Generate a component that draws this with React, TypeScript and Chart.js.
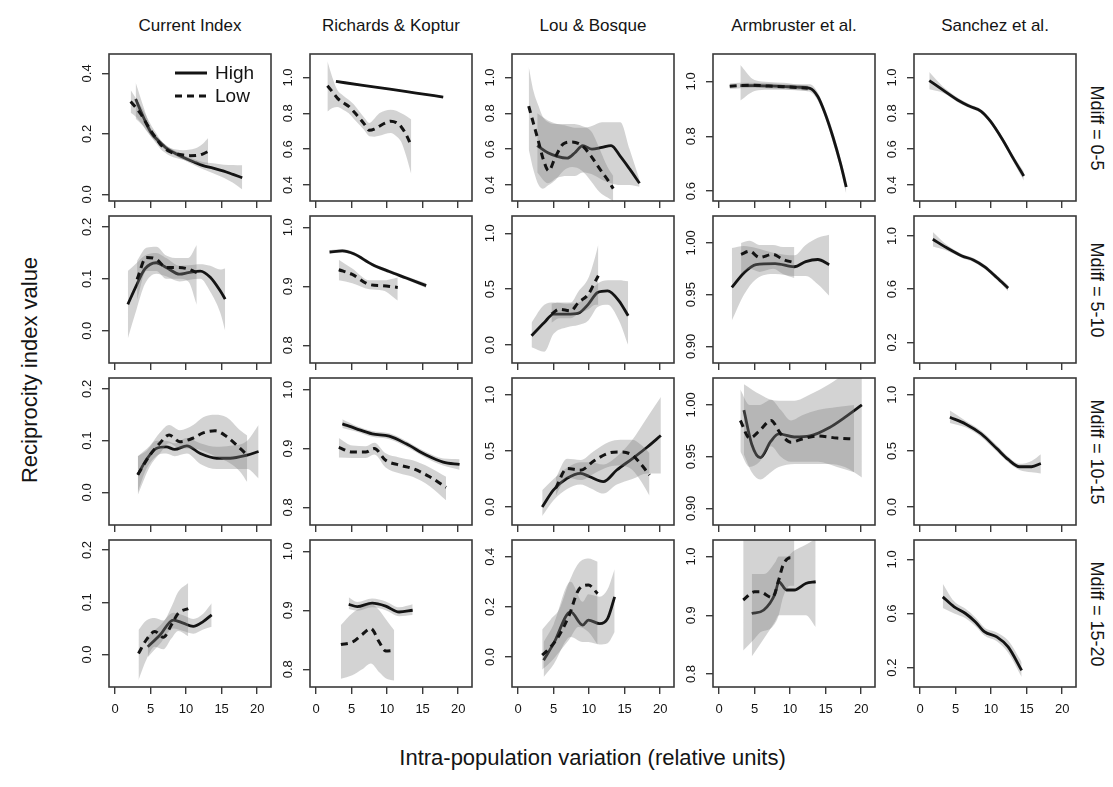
import React, { useEffect, useRef } from "react";
import { Chart, registerables } from "chart.js";
Chart.register(...registerables);

const FONT = '"Liberation Sans", Arial, Helvetica, sans-serif';
const INK = "#141414";
const FRAME = "#3a3a3a";
const BAND = "rgba(128,128,128,0.35)";
const TICK_SIZE = 13;

const COLUMN_TITLES = ["Current Index", "Richards & Koptur", "Lou & Bosque", "Armbruster et al.", "Sanchez et al."];
const ROW_LABELS = ["Mdiff = 0-5", "Mdiff = 5-10", "Mdiff = 10-15", "Mdiff = 15-20"];
const X_TITLE = "Intra-population variation (relative units)";
const Y_TITLE = "Reciprocity index value";
const LEGEND_LABELS = ["High", "Low"];
const X_TICKS = [0, 5, 10, 15, 20];
const X_LIMITS = [-0.85, 21.95];

// y-axis limits and tick labels per row (columns: Current, Richards, Lou, Armbruster, Sanchez)
const Y_LIMITS_05 = [[-0.022, 0.464], [0.311, 1.131], [0.311, 1.131], [0.564, 1.10], [0.311, 1.131]];
const Y_TICKS_05 = [["0.0", "0.2", "0.4"], ["0.4", "0.6", "0.8", "1.0"], ["0.4", "0.6", "0.8", "1.0"], ["0.6", "0.8", "1.0"], ["0.4", "0.6", "0.8", "1.0"]];
const Y_LIMITS_510 = [[-0.062, 0.221], [0.77, 1.019], [-0.161, 1.155], [0.884, 1.026], [0.045, 1.15]];
const Y_TICKS_510 = [["0.0", "0.1", "0.2"], ["0.8", "0.9", "1.0"], ["0.0", "0.5", "1.0"], ["0.90", "0.95", "1.00"], ["0.2", "0.6", "1.0"]];
const Y_LIMITS_1015 = [[-0.063, 0.221], [0.77, 1.02], [-0.16, 1.15], [0.884, 1.026], [-0.16, 1.15]];
const Y_TICKS_1015 = [["0.0", "0.1", "0.2"], ["0.8", "0.9", "1.0"], ["0.0", "0.5", "1.0"], ["0.90", "0.95", "1.00"], ["0.0", "0.5", "1.0"]];
const Y_LIMITS_1520 = [[-0.062, 0.219], [0.77, 1.019], [-0.12, 0.467], [0.778, 1.028], [0.057, 1.143]];
const Y_TICKS_1520 = [["0.0", "0.1", "0.2"], ["0.8", "0.9", "1.0"], ["0.0", "0.2", "0.4"], ["0.8", "0.9", "1.0"], ["0.2", "0.6", "1.0"]];

// ---------- Mdiff = 0-5 ----------
const CUR05_HX = [2.9, 4.0, 5.1, 6.2, 7.2, 8.5, 9.8, 11.1, 12.4, 13.8, 15.3, 16.6, 17.9];
const CUR05_HY = [0.315, 0.255, 0.203, 0.175, 0.153, 0.135, 0.12, 0.107, 0.095, 0.087, 0.077, 0.066, 0.055];
const CUR05_HLO = [0.25, 0.225, 0.19, 0.165, 0.145, 0.128, 0.112, 0.097, 0.083, 0.07, 0.055, 0.038, 0.016];
const CUR05_HHI = [0.37, 0.29, 0.217, 0.185, 0.162, 0.143, 0.128, 0.117, 0.107, 0.103, 0.098, 0.097, 0.096];
const CUR05_LX = [2.2, 3.0, 3.7, 4.4, 5.1, 5.8, 6.4, 7.1, 7.8, 8.6, 9.6, 10.6, 11.6, 12.4, 13.1];
const CUR05_LY = [0.307, 0.285, 0.263, 0.235, 0.208, 0.185, 0.165, 0.15, 0.14, 0.134, 0.13, 0.128, 0.129, 0.134, 0.142];
const CUR05_LLO = [0.27, 0.255, 0.235, 0.21, 0.19, 0.168, 0.15, 0.137, 0.127, 0.12, 0.114, 0.108, 0.103, 0.1, 0.099];
const CUR05_LHI = [0.345, 0.315, 0.29, 0.26, 0.228, 0.202, 0.18, 0.163, 0.153, 0.148, 0.146, 0.148, 0.155, 0.168, 0.186];

const RK05_HX = [2.8, 6.6, 10.4, 14.1, 17.9];
const RK05_HY = [0.978, 0.956, 0.935, 0.913, 0.891];
const RK05_HLO = [0.972, 0.951, 0.93, 0.908, 0.885];
const RK05_HHI = [0.984, 0.961, 0.94, 0.918, 0.897];
const RK05_LX = [1.6, 2.3, 3.0, 3.8, 4.6, 5.3, 6.1, 6.8, 7.5, 8.2, 8.9, 9.7, 10.5, 11.3, 12.0, 12.7, 13.4];
const RK05_LY = [0.954, 0.92, 0.885, 0.86, 0.839, 0.81, 0.774, 0.74, 0.706, 0.712, 0.728, 0.745, 0.756, 0.748, 0.724, 0.68, 0.62];
const RK05_LLO = [0.81, 0.83, 0.835, 0.82, 0.8, 0.77, 0.737, 0.705, 0.672, 0.67, 0.675, 0.685, 0.69, 0.672, 0.64, 0.56, 0.46];
const RK05_LHI = [1.09, 1.0, 0.93, 0.9, 0.876, 0.85, 0.81, 0.775, 0.746, 0.77, 0.8, 0.815, 0.82, 0.815, 0.8, 0.785, 0.765];

const LB05_HX = [2.7, 4.2, 5.5, 6.9, 8.0, 9.1, 10.4, 11.8, 13.1, 14.4, 15.7, 17.1];
const LB05_HY = [0.62, 0.58, 0.56, 0.55, 0.58, 0.62, 0.6, 0.61, 0.62, 0.56, 0.49, 0.41];
const LB05_HLO = [0.47, 0.41, 0.44, 0.45, 0.45, 0.47, 0.46, 0.43, 0.41, 0.4, 0.4, 0.39];
const LB05_HHI = [0.8, 0.76, 0.74, 0.73, 0.72, 0.72, 0.73, 0.75, 0.75, 0.75, 0.6, 0.43];
const LB05_LX = [1.5, 2.2, 2.9, 3.5, 4.3, 5.3, 6.4, 7.6, 9.0, 10.3, 11.5, 12.6, 13.4];
const LB05_LY = [0.84, 0.74, 0.64, 0.55, 0.48, 0.56, 0.63, 0.64, 0.62, 0.56, 0.49, 0.43, 0.38];
const LB05_LLO = [0.6, 0.48, 0.4, 0.38, 0.4, 0.43, 0.48, 0.5, 0.48, 0.42, 0.36, 0.33, 0.31];
const LB05_LHI = [1.06, 0.92, 0.84, 0.78, 0.75, 0.74, 0.74, 0.74, 0.73, 0.7, 0.6, 0.5, 0.45];

const ARM05_HX = [3.0, 5.0, 7.0, 9.0, 11.0, 12.8, 13.9, 14.9, 16.0, 17.1, 17.9];
const ARM05_HY = [0.985, 0.985, 0.984, 0.982, 0.979, 0.975, 0.945, 0.885, 0.8, 0.7, 0.615];
const ARM05_HLO = [0.93, 0.965, 0.97, 0.97, 0.968, 0.962, 0.93, 0.87, 0.78, 0.68, 0.59];
const ARM05_HHI = [1.06, 1.005, 0.998, 0.995, 0.99, 0.99, 0.96, 0.9, 0.82, 0.72, 0.64];
const ARM05_LX = [1.5, 3.0, 5.0, 7.0, 9.0, 11.0, 12.5];
const ARM05_LY = [0.982, 0.985, 0.986, 0.983, 0.981, 0.978, 0.975];
const ARM05_LLO = [0.972, 0.975, 0.977, 0.974, 0.972, 0.968, 0.964];
const ARM05_LHI = [0.992, 0.995, 0.995, 0.992, 0.99, 0.988, 0.986];

const SAN05_HX = [1.3, 3.2, 5.6, 7.0, 8.6, 9.9, 11.6, 13.2, 14.6];
const SAN05_HY = [0.983, 0.931, 0.867, 0.839, 0.811, 0.756, 0.654, 0.543, 0.45];
const SAN05_HLO = [0.935, 0.915, 0.855, 0.828, 0.8, 0.744, 0.64, 0.525, 0.425];
const SAN05_HHI = [1.03, 0.95, 0.88, 0.85, 0.822, 0.768, 0.668, 0.56, 0.475];

// ---------- Mdiff = 5-10 ----------
const CUR510_HX = [1.8, 3.0, 4.2, 5.8, 7.2, 9.1, 10.3, 12.0, 13.4, 14.8, 15.5];
const CUR510_HY = [0.051, 0.087, 0.119, 0.131, 0.122, 0.109, 0.112, 0.115, 0.103, 0.077, 0.061];
const CUR510_HLO = [-0.015, 0.04, 0.09, 0.11, 0.105, 0.095, 0.098, 0.1, 0.075, 0.035, 0.0];
const CUR510_HHI = [0.115, 0.13, 0.145, 0.15, 0.14, 0.125, 0.126, 0.128, 0.125, 0.118, 0.12];
const CUR510_LX = [3.1, 4.4, 5.8, 7.2, 8.9, 10.3, 11.5];
const CUR510_LY = [0.099, 0.141, 0.138, 0.122, 0.122, 0.119, 0.112];
const CUR510_LLO = [0.06, 0.115, 0.115, 0.1, 0.1, 0.095, 0.05];
const CUR510_LHI = [0.135, 0.16, 0.162, 0.145, 0.14, 0.14, 0.165];

const RK510_HX = [1.9, 3.7, 5.3, 7.9, 10.3, 12.7, 15.5];
const RK510_HY = [0.958, 0.96, 0.955, 0.937, 0.925, 0.914, 0.901];
const RK510_HLO = [0.955, 0.957, 0.952, 0.934, 0.922, 0.911, 0.897];
const RK510_HHI = [0.961, 0.963, 0.958, 0.94, 0.928, 0.917, 0.905];
const RK510_LX = [3.2, 5.1, 7.5, 9.4, 11.5];
const RK510_LY = [0.928, 0.92, 0.903, 0.901, 0.898];
const RK510_LLO = [0.91, 0.905, 0.895, 0.893, 0.876];
const RK510_LHI = [0.945, 0.93, 0.91, 0.91, 0.915];

const LB510_HX = [1.9, 3.7, 5.0, 6.9, 8.5, 9.9, 11.2, 12.6, 14.2, 15.5];
const LB510_HY = [0.083, 0.202, 0.277, 0.277, 0.286, 0.366, 0.47, 0.485, 0.396, 0.262];
const LB510_HLO = [-0.02, -0.06, 0.1, 0.16, 0.18, 0.22, 0.34, 0.36, 0.22, 0.0];
const LB510_HHI = [0.2, 0.36, 0.38, 0.37, 0.38, 0.45, 0.55, 0.58, 0.58, 0.57];
const LB510_LX = [4.7, 5.8, 7.4, 8.5, 9.9, 10.9, 11.3];
const LB510_LY = [0.277, 0.32, 0.306, 0.381, 0.455, 0.574, 0.62];
const LB510_LLO = [0.2, 0.24, 0.24, 0.28, 0.32, 0.36, 0.36];
const LB510_LHI = [0.37, 0.38, 0.38, 0.48, 0.6, 0.8, 0.9];

const ARM510_HX = [1.8, 3.5, 5.2, 7.9, 10.6, 12.2, 13.9, 15.5];
const ARM510_HY = [0.957, 0.971, 0.979, 0.98, 0.977, 0.982, 0.984, 0.979];
const ARM510_HLO = [0.925, 0.95, 0.965, 0.97, 0.968, 0.968, 0.96, 0.949];
const ARM510_HHI = [0.995, 0.997, 0.995, 0.99, 0.988, 0.998, 1.005, 1.008];
const ARM510_LX = [3.1, 4.3, 5.7, 7.6, 9.0, 10.6];
const ARM510_LY = [0.989, 0.992, 0.986, 0.989, 0.984, 0.981];
const ARM510_LLO = [0.97, 0.975, 0.972, 0.975, 0.97, 0.966];
const ARM510_LHI = [1.0, 1.002, 0.998, 0.998, 0.996, 0.996];

const SAN510_HX = [1.8, 3.7, 5.9, 7.5, 9.1, 10.8, 12.4];
const SAN510_HY = [0.975, 0.913, 0.85, 0.82, 0.768, 0.688, 0.608];
const SAN510_HLO = [0.92, 0.89, 0.835, 0.805, 0.752, 0.67, 0.585];
const SAN510_HHI = [1.03, 0.935, 0.865, 0.835, 0.784, 0.706, 0.63];

// ---------- Mdiff = 10-15 ----------
const CUR1015_HX = [3.2, 4.4, 5.8, 7.2, 8.4, 10.1, 12.0, 14.3, 16.2, 18.6, 20.2];
const CUR1015_HY = [0.034, 0.063, 0.085, 0.088, 0.083, 0.09, 0.075, 0.066, 0.066, 0.072, 0.079];
const CUR1015_HLO = [0.0, 0.045, 0.07, 0.075, 0.07, 0.075, 0.055, 0.045, 0.045, 0.045, 0.027];
const CUR1015_HHI = [0.07, 0.08, 0.1, 0.1, 0.095, 0.105, 0.095, 0.088, 0.09, 0.1, 0.13];
const CUR1015_LX = [3.2, 4.9, 6.3, 7.6, 9.1, 11.0, 12.4, 14.1, 15.7, 17.6, 18.6];
const CUR1015_LY = [0.034, 0.072, 0.095, 0.111, 0.098, 0.105, 0.115, 0.119, 0.108, 0.085, 0.072];
const CUR1015_LLO = [-0.005, 0.05, 0.075, 0.095, 0.085, 0.085, 0.08, 0.07, 0.06, 0.04, 0.02];
const CUR1015_LHI = [0.07, 0.09, 0.115, 0.13, 0.12, 0.13, 0.145, 0.15, 0.145, 0.12, 0.11];

const RK1015_HX = [3.7, 5.6, 7.9, 10.3, 12.7, 15.5, 17.9, 20.2];
const RK1015_HY = [0.942, 0.934, 0.925, 0.921, 0.908, 0.889, 0.877, 0.873];
const RK1015_HLO = [0.935, 0.929, 0.92, 0.916, 0.903, 0.884, 0.871, 0.864];
const RK1015_HHI = [0.95, 0.939, 0.93, 0.926, 0.913, 0.894, 0.883, 0.882];
const RK1015_LX = [3.2, 5.1, 7.0, 8.2, 9.8, 11.7, 13.6, 16.0, 18.3];
const RK1015_LY = [0.902, 0.894, 0.894, 0.9, 0.88, 0.872, 0.866, 0.852, 0.834];
const RK1015_LLO = [0.885, 0.884, 0.884, 0.89, 0.868, 0.858, 0.852, 0.836, 0.812];
const RK1015_LHI = [0.918, 0.905, 0.904, 0.91, 0.892, 0.885, 0.88, 0.868, 0.852];

const LB1015_HX = [3.4, 5.0, 6.9, 8.8, 10.1, 12.0, 13.9, 16.1, 18.2, 20.1];
const LB1015_HY = [0.0, 0.153, 0.256, 0.3, 0.27, 0.226, 0.33, 0.432, 0.535, 0.638];
const LB1015_HLO = [-0.08, 0.06, 0.16, 0.2, 0.17, 0.12, 0.2, 0.25, 0.3, 0.3];
const LB1015_HHI = [0.15, 0.25, 0.35, 0.4, 0.4, 0.38, 0.45, 0.6, 0.8, 0.98];
const LB1015_LX = [5.3, 6.9, 8.8, 10.7, 12.8, 14.4, 16.1, 17.4, 18.5];
const LB1015_LY = [0.168, 0.344, 0.329, 0.412, 0.482, 0.491, 0.462, 0.374, 0.285];
const LB1015_LLO = [0.1, 0.26, 0.24, 0.3, 0.36, 0.37, 0.33, 0.22, 0.1];
const LB1015_LHI = [0.26, 0.43, 0.42, 0.5, 0.58, 0.6, 0.6, 0.55, 0.48];

const ARM1015_HX = [3.5, 4.6, 5.8, 7.3, 8.4, 10.6, 12.8, 15.5, 17.7, 20.1];
const ARM1015_HY = [0.995, 0.962, 0.949, 0.965, 0.972, 0.969, 0.97, 0.978, 0.988, 1.0];
const ARM1015_HLO = [0.952, 0.935, 0.928, 0.935, 0.94, 0.943, 0.943, 0.943, 0.94, 0.93];
const ARM1015_HHI = [1.02, 1.015, 1.01, 1.005, 1.004, 1.004, 1.01, 1.02, 1.03, 1.04];
const ARM1015_LX = [3.0, 4.3, 5.7, 7.3, 8.7, 10.1, 11.7, 13.9, 16.6, 19.0];
const ARM1015_LY = [0.985, 0.968, 0.975, 0.985, 0.972, 0.964, 0.967, 0.97, 0.968, 0.967];
const ARM1015_LLO = [0.955, 0.94, 0.945, 0.96, 0.95, 0.945, 0.945, 0.945, 0.94, 0.935];
const ARM1015_LHI = [1.015, 1.0, 1.0, 1.005, 0.995, 0.985, 0.99, 0.995, 0.998, 1.0];

const SAN1015_HX = [4.2, 6.4, 8.6, 10.8, 12.4, 14.0, 15.7, 17.0];
const SAN1015_HY = [0.8, 0.741, 0.653, 0.521, 0.424, 0.359, 0.359, 0.388];
const SAN1015_HLO = [0.75, 0.71, 0.625, 0.495, 0.4, 0.33, 0.31, 0.3];
const SAN1015_HHI = [0.86, 0.77, 0.68, 0.55, 0.45, 0.385, 0.41, 0.47];

// ---------- Mdiff = 15-20 ----------
const CUR1520_HX = [4.6, 6.3, 8.2, 9.6, 11.0, 12.4, 13.6];
const CUR1520_HY = [0.015, 0.037, 0.066, 0.06, 0.054, 0.063, 0.076];
const CUR1520_HLO = [-0.005, 0.02, 0.05, 0.045, 0.04, 0.048, 0.053];
const CUR1520_HHI = [0.035, 0.055, 0.08, 0.075, 0.068, 0.078, 0.098];
const CUR1520_LX = [3.3, 4.4, 5.6, 6.8, 7.9, 8.9, 10.3];
const CUR1520_LY = [0.002, 0.028, 0.044, 0.033, 0.056, 0.079, 0.088];
const CUR1520_LLO = [-0.049, -0.01, 0.015, 0.01, 0.03, 0.045, 0.035];
const CUR1520_LHI = [0.047, 0.065, 0.07, 0.065, 0.09, 0.12, 0.137];

const RK1520_HX = [4.6, 5.8, 7.9, 9.8, 11.7, 13.6];
const RK1520_HY = [0.91, 0.906, 0.912, 0.907, 0.897, 0.9];
const RK1520_HLO = [0.902, 0.899, 0.905, 0.9, 0.89, 0.892];
const RK1520_HHI = [0.922, 0.914, 0.92, 0.915, 0.905, 0.91];
const RK1520_LX = [3.5, 5.1, 6.5, 7.7, 8.9, 9.8, 11.0];
const RK1520_LY = [0.842, 0.846, 0.859, 0.869, 0.846, 0.831, 0.832];
const RK1520_LLO = [0.784, 0.79, 0.8, 0.81, 0.795, 0.785, 0.781];
const RK1520_LHI = [0.875, 0.895, 0.905, 0.91, 0.9, 0.885, 0.866];

const LB1520_HX = [3.6, 5.0, 7.4, 9.1, 9.9, 11.5, 12.6, 13.6];
const LB1520_HY = [-0.013, 0.053, 0.18, 0.127, 0.147, 0.133, 0.153, 0.24];
const LB1520_HLO = [-0.08, -0.03, 0.08, 0.06, 0.06, 0.05, 0.055, 0.1];
const LB1520_HHI = [0.06, 0.13, 0.3, 0.22, 0.25, 0.24, 0.27, 0.35];
const LB1520_LX = [3.4, 4.6, 5.8, 7.2, 8.5, 9.9, 11.2];
const LB1520_LY = [0.007, 0.04, 0.087, 0.167, 0.267, 0.287, 0.253];
const LB1520_LLO = [-0.05, -0.02, 0.02, 0.07, 0.12, 0.1, 0.05];
const LB1520_LHI = [0.11, 0.15, 0.19, 0.3, 0.373, 0.393, 0.38];

const ARM1520_HX = [4.6, 6.3, 7.9, 8.4, 9.5, 10.6, 12.2, 13.6];
const ARM1520_HY = [0.903, 0.909, 0.937, 0.957, 0.943, 0.943, 0.954, 0.957];
const ARM1520_HLO = [0.83, 0.86, 0.89, 0.9, 0.9, 0.9, 0.9, 0.88];
const ARM1520_HHI = [0.97, 0.97, 0.99, 1.0, 1.0, 1.01, 1.02, 1.03];
const ARM1520_LX = [3.4, 5.0, 5.7, 7.5, 8.4, 9.0, 10.0, 10.6];
const ARM1520_LY = [0.926, 0.94, 0.94, 0.93, 0.96, 0.985, 0.998, 0.998];
const ARM1520_LLO = [0.84, 0.86, 0.87, 0.88, 0.9, 0.93, 0.95, 0.95];
const ARM1520_LHI = [1.03, 1.03, 1.03, 1.03, 1.03, 1.03, 1.03, 1.03];

const SAN1520_HX = [3.2, 4.8, 6.4, 7.8, 9.1, 10.8, 12.4, 14.3];
const SAN1520_HY = [0.723, 0.649, 0.6, 0.538, 0.464, 0.427, 0.353, 0.18];
const SAN1520_HLO = [0.64, 0.6, 0.565, 0.505, 0.435, 0.395, 0.31, 0.13];
const SAN1520_HHI = [0.82, 0.69, 0.635, 0.57, 0.495, 0.46, 0.4, 0.24];

type Series = [number[], number[], number[], number[]];
type PanelSpec = { row: number; col: number; yLim: number[]; yTicks: string[]; high: Series; low: Series | null };

const ROW_SERIES: Array<Array<[Series, Series | null]>> = [
  [
    [[CUR05_HX, CUR05_HY, CUR05_HLO, CUR05_HHI], [CUR05_LX, CUR05_LY, CUR05_LLO, CUR05_LHI]],
    [[RK05_HX, RK05_HY, RK05_HLO, RK05_HHI], [RK05_LX, RK05_LY, RK05_LLO, RK05_LHI]],
    [[LB05_HX, LB05_HY, LB05_HLO, LB05_HHI], [LB05_LX, LB05_LY, LB05_LLO, LB05_LHI]],
    [[ARM05_HX, ARM05_HY, ARM05_HLO, ARM05_HHI], [ARM05_LX, ARM05_LY, ARM05_LLO, ARM05_LHI]],
    [[SAN05_HX, SAN05_HY, SAN05_HLO, SAN05_HHI], null],
  ],
  [
    [[CUR510_HX, CUR510_HY, CUR510_HLO, CUR510_HHI], [CUR510_LX, CUR510_LY, CUR510_LLO, CUR510_LHI]],
    [[RK510_HX, RK510_HY, RK510_HLO, RK510_HHI], [RK510_LX, RK510_LY, RK510_LLO, RK510_LHI]],
    [[LB510_HX, LB510_HY, LB510_HLO, LB510_HHI], [LB510_LX, LB510_LY, LB510_LLO, LB510_LHI]],
    [[ARM510_HX, ARM510_HY, ARM510_HLO, ARM510_HHI], [ARM510_LX, ARM510_LY, ARM510_LLO, ARM510_LHI]],
    [[SAN510_HX, SAN510_HY, SAN510_HLO, SAN510_HHI], null],
  ],
  [
    [[CUR1015_HX, CUR1015_HY, CUR1015_HLO, CUR1015_HHI], [CUR1015_LX, CUR1015_LY, CUR1015_LLO, CUR1015_LHI]],
    [[RK1015_HX, RK1015_HY, RK1015_HLO, RK1015_HHI], [RK1015_LX, RK1015_LY, RK1015_LLO, RK1015_LHI]],
    [[LB1015_HX, LB1015_HY, LB1015_HLO, LB1015_HHI], [LB1015_LX, LB1015_LY, LB1015_LLO, LB1015_LHI]],
    [[ARM1015_HX, ARM1015_HY, ARM1015_HLO, ARM1015_HHI], [ARM1015_LX, ARM1015_LY, ARM1015_LLO, ARM1015_LHI]],
    [[SAN1015_HX, SAN1015_HY, SAN1015_HLO, SAN1015_HHI], null],
  ],
  [
    [[CUR1520_HX, CUR1520_HY, CUR1520_HLO, CUR1520_HHI], [CUR1520_LX, CUR1520_LY, CUR1520_LLO, CUR1520_LHI]],
    [[RK1520_HX, RK1520_HY, RK1520_HLO, RK1520_HHI], [RK1520_LX, RK1520_LY, RK1520_LLO, RK1520_LHI]],
    [[LB1520_HX, LB1520_HY, LB1520_HLO, LB1520_HHI], [LB1520_LX, LB1520_LY, LB1520_LLO, LB1520_LHI]],
    [[ARM1520_HX, ARM1520_HY, ARM1520_HLO, ARM1520_HHI], [ARM1520_LX, ARM1520_LY, ARM1520_LLO, ARM1520_LHI]],
    [[SAN1520_HX, SAN1520_HY, SAN1520_HLO, SAN1520_HHI], null],
  ],
];
const ROW_LIMITS = [Y_LIMITS_05, Y_LIMITS_510, Y_LIMITS_1015, Y_LIMITS_1520];
const ROW_TICKS = [Y_TICKS_05, Y_TICKS_510, Y_TICKS_1015, Y_TICKS_1520];

const PANELS: PanelSpec[] = [];
ROW_SERIES.forEach((rowArr, r) =>
  rowArr.forEach(([high, low], c) =>
    PANELS.push({ row: r, col: c, yLim: ROW_LIMITS[r][c], yTicks: ROW_TICKS[r][c], high, low })
  )
);

// ---------- layout (style only) ----------
const PAGE_W = 1113;
const PAGE_H = 787;
const BOX_LEFT = [109, 310, 512, 713, 914];
const BOX_TOP = [54, 216, 378, 540];
const BOX_W = 162;
const BOX_H = 147;
const AXIS_W = 40;
const PAD_T = 6;
const PAD_R = 4;

let measureCtx: CanvasRenderingContext2D | null = null;
function textWidth(s: string, size: number) {
  if (!measureCtx) measureCtx = document.createElement("canvas").getContext("2d");
  measureCtx!.font = `${size}px ${FONT}`;
  return measureCtx!.measureText(s).width;
}

const framePlugin = {
  id: "frameBox",
  afterDraw(chart: any) {
    const { ctx, chartArea: a } = chart;
    ctx.save();
    ctx.strokeStyle = FRAME;
    ctx.lineWidth = 1.6;
    ctx.strokeRect(a.left, a.top, a.right - a.left, a.bottom - a.top);
    ctx.restore();
  },
};

const legendPlugin = {
  id: "innerLegend",
  afterDraw(chart: any) {
    const { ctx, chartArea: a } = chart;
    ctx.save();
    ctx.strokeStyle = INK;
    ctx.fillStyle = INK;
    ctx.lineWidth = 3;
    ctx.lineCap = "butt";
    const rows = [a.top + 19, a.top + 42];
    rows.forEach((y, i) => {
      ctx.setLineDash(i === 0 ? [] : [7, 5]);
      ctx.beginPath();
      ctx.moveTo(a.left + 66, y);
      ctx.lineTo(a.left + 98, y);
      ctx.stroke();
      ctx.setLineDash([]);
      ctx.font = `19px ${FONT}`;
      ctx.textBaseline = "middle";
      ctx.textAlign = "left";
      ctx.fillText(LEGEND_LABELS[i], a.left + 106, y + 1);
    });
    ctx.restore();
  },
};

function Panel({ spec }: { spec: PanelSpec }) {
  const ref = useRef<HTMLCanvasElement>(null);
  const last = spec.row === 3;
  const xh = last ? 34 : 12;
  const w = AXIS_W + BOX_W + PAD_R;
  const h = PAD_T + BOX_H + xh;

  useEffect(() => {
    const el = ref.current;
    if (!el) return;
    const yLabels = spec.yTicks;
    const yVals = yLabels.map(Number);
    const widest = Math.max(...yLabels.map((s) => textWidth(s, TICK_SIZE)));
    const yPad = Math.max(0, 15 - widest / 2);
    const pts = (xs: number[], ys: number[]) => xs.map((x, i) => ({ x, y: ys[i] }));
    const common = { pointRadius: 0, pointHoverRadius: 0, cubicInterpolationMode: "monotone", clip: 0 };
    const datasets: any[] = [];
    // drawing order: high band (3) -> high line (2) -> low band (1) -> low line (0)
    const addBand = (s: Series, name: string, order: number) => {
      datasets.push({ ...common, label: name + " upper", data: pts(s[0], s[3]), borderColor: "transparent", borderWidth: 0, fill: false, order });
      datasets.push({ ...common, label: name + " lower", data: pts(s[0], s[2]), borderColor: "transparent", borderWidth: 0, backgroundColor: BAND, fill: "-1", order });
    };
    addBand(spec.high, "High", 3);
    datasets.push({ ...common, label: "High", data: pts(spec.high[0], spec.high[1]), borderColor: INK, borderWidth: 2.8, fill: false, order: 2 });
    if (spec.low) {
      addBand(spec.low, "Low", 1);
      datasets.push({ ...common, label: "Low", data: pts(spec.low[0], spec.low[1]), borderColor: INK, borderWidth: 3, borderDash: [7, 5], borderCapStyle: "butt", fill: false, order: 0 });
    }
    const gridOpts = { drawOnChartArea: false, drawTicks: true, tickLength: 7, color: FRAME, lineWidth: 1.4 };
    const chart = new Chart(el, {
      type: "line",
      data: { datasets },
      options: {
        responsive: false,
        animation: false,
        devicePixelRatio: 1,
        events: [],
        layout: { padding: { left: 0, right: PAD_R, top: PAD_T, bottom: 0 } },
        plugins: { legend: { display: false }, tooltip: { enabled: false } },
        scales: {
          x: {
            type: "linear",
            position: "bottom",
            min: X_LIMITS[0],
            max: X_LIMITS[1],
            afterBuildTicks: (s: any) => { s.ticks = X_TICKS.map((v) => ({ value: v })); },
            afterFit: (s: any) => { s.height = xh; s.paddingLeft = 0; s.paddingRight = 0; },
            ticks: { display: last, color: INK, font: { family: FONT, size: TICK_SIZE }, padding: 8, minRotation: 0, maxRotation: 0, autoSkip: false },
            grid: gridOpts,
            border: { display: false },
          },
          y: {
            type: "linear",
            position: "left",
            min: spec.yLim[0],
            max: spec.yLim[1],
            afterBuildTicks: (s: any) => { s.ticks = yVals.map((v) => ({ value: v })); },
            afterFit: (s: any) => { s.width = AXIS_W; s.paddingTop = 0; s.paddingBottom = 0; },
            ticks: {
              color: INK,
              font: { family: FONT, size: TICK_SIZE },
              padding: yPad,
              minRotation: 90,
              maxRotation: 90,
              crossAlign: "center",
              autoSkip: false,
              callback: (_v: any, i: number) => yLabels[i],
            },
            grid: gridOpts,
            border: { display: false },
          },
        },
      } as any,
      plugins: spec.row === 0 && spec.col === 0 ? [framePlugin, legendPlugin] : [framePlugin],
    } as any);
    return () => chart.destroy();
  }, [spec]);

  return (
    <canvas
      ref={ref}
      width={w}
      height={h}
      style={{ position: "absolute", left: BOX_LEFT[spec.col] - AXIS_W, top: BOX_TOP[spec.row] - PAD_T, width: w, height: h }}
    />
  );
}

const textBase: React.CSSProperties = { position: "absolute", fontFamily: FONT, color: INK, whiteSpace: "nowrap", lineHeight: 1 };

export default function App() {
  return (
    <div style={{ position: "absolute", left: 0, top: 0, width: PAGE_W, height: PAGE_H, background: "#fff", overflow: "hidden" }}>
      {COLUMN_TITLES.map((t, c) => (
        <div key={"t" + c} style={{ ...textBase, left: BOX_LEFT[c] + BOX_W / 2, top: 25, fontSize: 17, transform: "translate(-50%,-50%)" }}>{t}</div>
      ))}
      {ROW_LABELS.map((t, r) => (
        <div key={"r" + r} style={{ ...textBase, left: 1097, top: BOX_TOP[r] + BOX_H / 2, fontSize: 18, transform: "translate(-50%,-50%) rotate(90deg)" }}>{t}</div>
      ))}
      <div style={{ ...textBase, left: 30, top: 370, fontSize: 22, transform: "translate(-50%,-50%) rotate(-90deg)" }}>{Y_TITLE}</div>
      <div style={{ ...textBase, left: (BOX_LEFT[0] + BOX_LEFT[4] + BOX_W) / 2, top: 758, fontSize: 22, transform: "translate(-50%,-50%)" }}>{X_TITLE}</div>
      {PANELS.map((p) => (
        <Panel key={p.row + "-" + p.col} spec={p} />
      ))}
    </div>
  );
}
